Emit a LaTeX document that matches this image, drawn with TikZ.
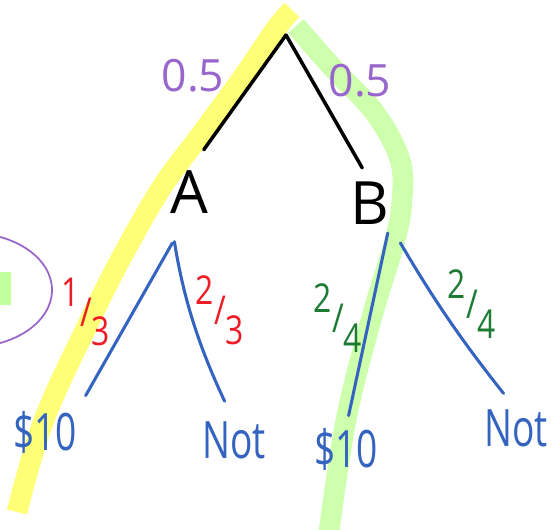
\documentclass[tikz,border=0pt]{standalone}
\usepackage{fontspec}
\usepackage{graphicx}
\setmainfont{Open Sans}
\usepackage{tikz}
\definecolor{moradoProb}{HTML}{9966CC}
\definecolor{rojoProb}{HTML}{EE1C25}
\definecolor{verdeProb}{HTML}{1E7B34}
\definecolor{azulRama}{HTML}{3463C0}
\definecolor{amarilloResalte}{HTML}{FFFF77}
\definecolor{verdeResalte}{HTML}{C4FF9E}
\newcommand{\fraccion}[2]{\scalebox{0.8}[1]{\raisebox{.5em}{#1}/\raisebox{-.5em}{#2}}}
\newcommand{\angosto}[1]{\scalebox{0.72}[1]{#1}}

\begin{document}
\begin{tikzpicture}[
        x=0.03cm, y=-0.03cm,
        rama/.style={draw=black, line width=3pt, line cap=round},
        hoja/.style={draw=azulRama, line width=2.6pt, line cap=round},
        resalte/.style={line width=0.62cm, line cap=butt, line join=round},
        letra/.style={inner sep=0pt, font=\fontsize{51}{56}\selectfont},
        prob/.style={inner sep=0pt, text=moradoProb, font=\fontsize{38}{42}\selectfont},
        fracRoja/.style={inner sep=0pt, text=rojoProb, font=\fontsize{34}{38}\selectfont},
        fracVerde/.style={inner sep=0pt, text=verdeProb, font=\fontsize{34}{38}\selectfont},
        final/.style={inner sep=0pt, text=azulRama, font=\fontsize{44}{48}\selectfont}
    ]
        \useasboundingbox (0,0) rectangle (557,530);
        \clip (0,0) rectangle (557,530);

        % resaltado a mano
        \draw[resalte, amarilloResalte] plot[smooth, tension=0.6] coordinates
            {(292,10) (275,30) (243,77) (202,133) (162,187) (124,253) (90,320) (44,420) (17,512)};
        \draw[resalte, verdeResalte, opacity=0.85] plot[smooth, tension=0.6] coordinates
            {(296,26) (332,67) (375,113) (400,160) (402,200) (395,240) (371,320) (346,420) (329,532)};
        \fill[verdeResalte] (0,272) rectangle (11,305);
        \draw[moradoProb, line width=1.5pt] (-30,290) ellipse [x radius=82, y radius=57];

        \coordinate (raiz) at (286,35);
        \node[letra] (A) at (189,192) {A};
        \node[letra] (B) at (370,203) {B};
        \node[prob] (pA) at (193,76) {0.5};
        \node[prob] (pB) at (360,81) {0.5};

        \node[final] (ganaA) at (45,432) {\angosto{\$10}};
        \node[final] (noA) at (234,440) {\angosto{Not}};
        \node[final] (ganaB) at (346,449) {\angosto{\$10}};
        \node[final] (noB) at (516,428) {\angosto{Not}};

        \node[fracRoja] (fA1) at (86,312) {\fraccion{1}{3}};
        \node[fracRoja] (fA2) at (220,310) {\fraccion{2}{3}};
        \node[fracVerde] (fB1) at (338,318) {\fraccion{2}{4}};
        \node[fracVerde] (fB2) at (472,304) {\fraccion{2}{4}};

        \draw[rama, shorten >=0.76cm] (raiz) -- (A.north);
        \draw[rama, shorten >=0.47cm] (raiz) -- (B.north);

        \draw[hoja, shorten <=1.02cm, shorten >=0.52cm] (A.south) -- (ganaA.north east);
        \draw[hoja, shorten <=0.85cm, shorten >=0.66cm] (A.south west) to[bend right=8] (noA.north);
        \draw[hoja, shorten <=0.26cm, shorten >=0.37cm] (B.south east) -- (ganaB.north);
        \draw[hoja, shorten <=0.64cm, shorten >=0.6cm] (B.south east) to[bend right=4] (noB.north);
    \end{tikzpicture}
\end{document}
